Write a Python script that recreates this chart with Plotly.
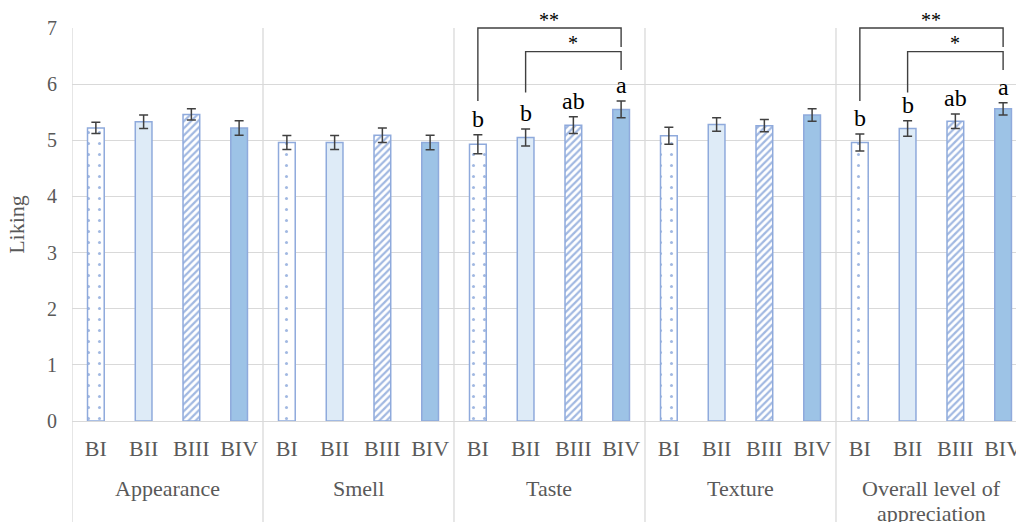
import plotly.graph_objects as go

# ---------------- data ----------------
attributes = ["Appearance", "Smell", "Taste", "Texture", "Overall level of<br>appreciation"]
samples = ["BI", "BII", "BIII", "BIV"]

# mean liking per attribute, one list per sample
BI_mean = [5.22, 4.96, 4.93, 5.08, 4.96]
BII_mean = [5.33, 4.96, 5.05, 5.28, 5.21]
BIII_mean = [5.46, 5.09, 5.27, 5.26, 5.34]
BIV_mean = [5.22, 4.96, 5.55, 5.45, 5.56]

BI_err = [0.10, 0.125, 0.17, 0.15, 0.15]
BII_err = [0.12, 0.125, 0.15, 0.12, 0.14]
BIII_err = [0.10, 0.13, 0.15, 0.11, 0.13]
BIV_err = [0.13, 0.13, 0.15, 0.11, 0.11]

# significance letters (attribute -> letters for BI..BIV)
letters_taste = ["b", "b", "ab", "a"]
letters_overall = ["b", "b", "ab", "a"]
y_ticks = [0, 1, 2, 3, 4, 5, 6, 7]

# ---------------- styling ----------------
YMAX = 7
SERIF = "Liberation Serif"
GRAY_TXT = "#595959"
GRID = "#d9d9d9"
EDGE = "#8faadc"
PAT = "#4472c4"
ERR = "#404040"
PLOT_H = 522 - 28 - 101

means = [BI_mean, BII_mean, BIII_mean, BIV_mean]
errs = [BI_err, BII_err, BIII_err, BIV_err]
styles = [
    dict(color="white", pattern=dict(shape=".", fgcolor=PAT, bgcolor="white", size=11, solidity=0.06)),
    dict(color="#deebf7"),
    dict(color="white", pattern=dict(shape="/", fgcolor=PAT, bgcolor="white", size=5, solidity=0.45)),
    dict(color="#9dc3e6"),
]

n_s = len(samples)
fig = go.Figure()
for k, s in enumerate(samples):
    xs = [g * n_s + k for g in range(len(attributes))]
    fig.add_trace(go.Bar(
        x=xs, y=means[k], width=0.35, name=s,
        marker=dict(line=dict(color=EDGE, width=1.5), **styles[k]),
        error_y=dict(type="data", array=errs[k], visible=True, color=ERR, thickness=1.5, width=4.5),
        showlegend=False,
    ))

tickvals = [g * n_s + k for g in range(len(attributes)) for k in range(n_s)]
ticktext = samples * len(attributes)

annotations = []
shapes = []

# group boundary lines
for g in range(len(attributes) + 1):
    shapes.append(dict(type="line", xref="x", yref="paper", x0=g * n_s - 0.5, x1=g * n_s - 0.5,
                       y0=-0.3, y1=1, line=dict(color=GRID, width=1.3), layer="below"))

# group labels (each line placed separately, 25 px apart)
for g, a in enumerate(attributes):
    for li, line in enumerate(a.split("<br>")):
        annotations.append(dict(x=g * n_s + 1.5, xref="x", y=-(67 + 25 * li) / PLOT_H, yref="paper",
                                text=line, showarrow=False, yanchor="middle", align="center",
                                font=dict(family=SERIF, size=22, color=GRAY_TXT)))

# letters + brackets
for g, lets in [(2, letters_taste), (4, letters_overall)]:
    for k in range(n_s):
        top = means[k][g] + errs[k][g]
        annotations.append(dict(x=g * n_s + k, xref="x", y=top, yref="y", text=lets[k],
                                showarrow=False, yanchor="bottom", yshift=1,
                                font=dict(family=SERIF, size=24, color="black")))
    xl2, xl1, xr = g * n_s, g * n_s + 1, g * n_s + 3
    br = [(xl2, 7.0, 5.70, 6.66, "**", 7.15), (xl1, 6.58, 5.85, 6.25, "*", 6.74)]
    for xl, ytop, yl, yr, lab, ylab in br:
        path_pts = [(xl, yl), (xl, ytop), (xr, ytop), (xr, yr)]
        path = "M " + " L ".join(f"{x},{y / YMAX}" for x, y in path_pts)
        shapes.append(dict(type="path", xref="x", yref="paper", path=path,
                           line=dict(color=ERR, width=1.4)))
        annotations.append(dict(x=(xl + xr) / 2, xref="x", y=ylab / YMAX, yref="paper", text=lab,
                                showarrow=False, yanchor="middle",
                                font=dict(family=SERIF, size=20, color="black")))

fig.update_layout(
    width=1016, height=522,
    margin=dict(l=72, r=0, t=28, b=101, autoexpand=False),
    plot_bgcolor="white", paper_bgcolor="white",
    barmode="overlay",
    shapes=shapes, annotations=annotations,
    font=dict(family=SERIF, color=GRAY_TXT),
)
fig.update_xaxes(
    range=[-0.5, 19.27], tickmode="array", tickvals=tickvals, ticktext=ticktext,
    showgrid=False, zeroline=False, showline=True, linecolor=GRID, linewidth=1.3,
    ticks="", ticklabelstandoff=7, ticklabeloverflow="allow", automargin=False,
    tickfont=dict(family=SERIF, size=22, color=GRAY_TXT),
)
fig.update_yaxes(
    range=[0, YMAX], tickmode="array", tickvals=y_ticks,
    showgrid=True, gridcolor=GRID, gridwidth=1.3, zeroline=False, showline=False,
    ticks="", ticklabelstandoff=14, automargin=False,
    tickfont=dict(family=SERIF, size=20, color=GRAY_TXT),
    title=dict(text="Liking", standoff=16, font=dict(family=SERIF, size=22, color=GRAY_TXT)),
)

fig.write_html("out.html")
